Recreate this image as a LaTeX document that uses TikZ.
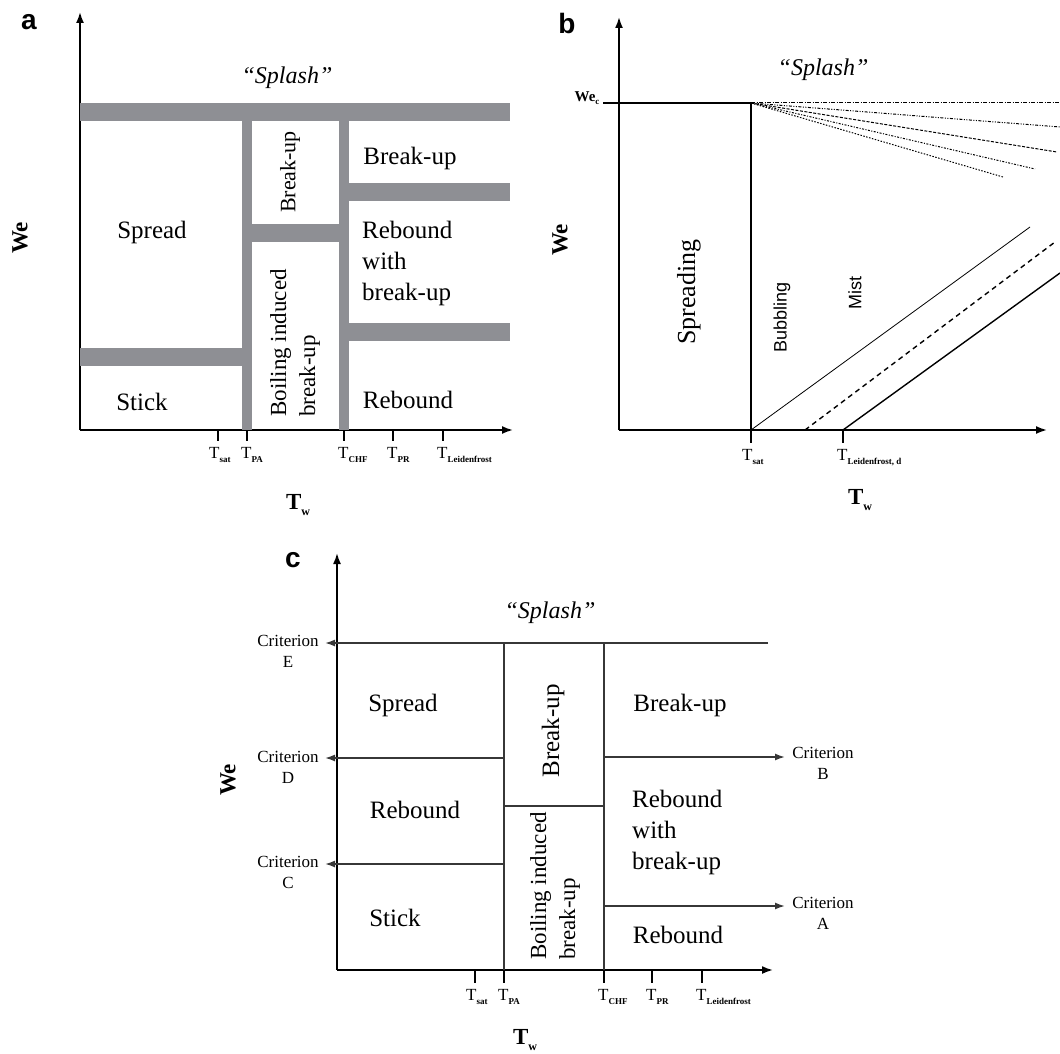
\documentclass[tikz,border=0pt]{standalone}
\usepackage{fontspec}
\usetikzlibrary{arrows.meta}
\setmainfont{Liberation Serif}
\newfontfamily\arialfont{Liberation Sans}
\definecolor{bandgray}{RGB}{142,143,148}
\definecolor{linegray}{RGB}{55,55,55}
\newcommand{\Tsub}[1]{T\raisebox{-0.55ex}{\fontsize{9}{9}\selectfont\bfseries #1}}
\newcommand{\Tw}{\textbf{T\raisebox{-0.5ex}{\fontsize{12}{12}\selectfont w}}}

\begin{document}
\begin{tikzpicture}[x=1pt,y=-1pt,
  axis/.style={line width=1.8pt,-{Latex[length=11pt,width=8pt]}},
  tick/.style={line width=1.2pt},
  band/.style={fill=bandgray,draw=none},
  region/.style={font=\fontsize{25}{31}\selectfont,inner sep=0},
  vregion/.style={font=\fontsize{23}{29}\selectfont,rotate=90,align=left,inner sep=0},
  ticklabel/.style={font=\fontsize{17}{17}\selectfont,anchor=base west,inner sep=0},
  axlabel/.style={font=\fontsize{23}{23}\selectfont\bfseries,inner sep=0},
  panel/.style={font=\arialfont\fontsize{28}{28}\selectfont\bfseries,inner sep=0},
  splash/.style={font=\fontsize{24}{24}\selectfont\itshape,inner sep=0},
  crit/.style={font=\fontsize{17}{21}\selectfont,align=center,inner sep=0},
  critline/.style={line width=1.6pt,draw=linegray,-{Latex[length=10pt,width=7pt]}},
  wall/.style={line width=1.6pt,draw=linegray}]
\useasboundingbox (0,0) rectangle (1060,1054);

%panel a
\node[panel] (alabel) at (29,22) {a};
\draw[axis] (80,430) -- (80,12);
\draw[axis] (80,430) -- (513,430);
\fill[band] (80,103) rectangle (510,121);
\fill[band] (242,121) rectangle (252,430);
\fill[band] (339,121) rectangle (349,430);
\fill[band] (80,348) rectangle (242,366);
\fill[band] (252,224) rectangle (339,242);
\fill[band] (349,183) rectangle (510,201);
\fill[band] (349,323) rectangle (510,341);
\foreach \x in {218,247,344,393,443} \draw[tick] (\x,430) -- (\x,441);
\node[ticklabel] (asat) at (209,458) {\Tsub{sat}};
\node[ticklabel] (apa) at (241,458) {\Tsub{PA}};
\node[ticklabel] (achf) at (338,458) {\Tsub{CHF}};
\node[ticklabel] (apr) at (387,458) {\Tsub{PR}};
\node[ticklabel] (aleid) at (437,458) {\Tsub{Leidenfrost}};
\node[axlabel,rotate=90] (awe) at (20,238) {We};
\node[axlabel] (atw) at (298,505) {\Tw};
\node[splash] (asplash) at (287,78) {``Splash''};
\node[region] (aspread) at (152,232) {Spread};
\node[region] (astick) at (142,402) {Stick};
\node[vregion,font=\fontsize{22}{22}\selectfont] (abreakv) at (290,172) {Break-up};
\node[vregion] (aboil) at (295,343) {Boiling induced\\break-up};
\node[region] (abreak) at (410,158) {Break-up};
\node[region,align=left,anchor=west] (arwb) at (362,263) {Rebound\\with\\break-up};
\node[region] (arebound) at (408,400) {Rebound};

%panel b
\node[panel] (blabel) at (567,23) {b};
\draw[axis] (619,430) -- (619,17);
\draw[axis] (619,430) -- (1047,430);
\draw[line width=1.4pt] (603,103) -- (751,103) -- (751,430);
\foreach \x in {751,843} \draw[tick] (\x,430) -- (\x,443);
\draw[line width=1pt,dash pattern=on 4pt off 1.5pt on 1pt off 1.5pt] (751,103) -- (1060,103);
\draw[line width=1pt,dash pattern=on 3pt off 1.5pt on 1pt off 1.5pt on 1pt off 1.5pt] (751,103) -- (1060,127);
\draw[line width=1pt,dash pattern=on 3pt off 1.5pt] (751,103) -- (1057,152);
\draw[line width=1pt,dash pattern=on 2pt off 1.5pt on 1pt off 1.5pt] (751,103) -- (1035,169);
\draw[line width=1pt,dash pattern=on 1.5pt off 1.5pt] (751,103) -- (1003,177);
\draw[line width=0.8pt] (751,430) -- (1030,227);
\draw[line width=1.4pt,dash pattern=on 5pt off 4pt] (805,430) -- (1055,242);
\draw[line width=1.4pt] (843,430) -- (1060,273);
\node[font=\fontsize{15}{15}\selectfont\bfseries,inner sep=0] (bwec) at (587,98) {We\raisebox{-0.5ex}{\fontsize{9}{9}\selectfont c}};
\node[ticklabel] (bsat) at (742,460) {\Tsub{sat}};
\node[ticklabel] (bleid) at (837,460) {\Tsub{Leidenfrost, d}};
\node[axlabel,rotate=90] (bwe) at (560,240) {We};
\node[axlabel] (btw) at (860,500) {\Tw};
\node[splash] (bsplash) at (823,70) {``Splash''};
\node[vregion,font=\fontsize{26}{26}\selectfont] (bspread) at (689,292) {Spreading};
\node[vregion,font=\arialfont\fontsize{18}{18}\selectfont] (bbubble) at (782,317) {Bubbling};
\node[vregion,font=\arialfont\fontsize{18}{18}\selectfont] (bmist) at (855,293) {Mist};

%panel c
\node[panel] (clabel) at (293,560) {c};
\draw[axis] (337,970) -- (337,553);
\draw[axis] (337,970) -- (773,970);
\draw[wall] (504,643) -- (504,970);
\draw[wall] (604,643) -- (604,970);
\draw[wall] (504,806) -- (604,806);
\draw[critline] (768,643) -- (325,643);
\draw[critline] (504,758) -- (325,758);
\draw[critline] (504,864) -- (325,864);
\draw[critline] (604,757) -- (785,757);
\draw[critline] (604,906) -- (785,906);
\foreach \x in {475,504,604,652,702} \draw[tick] (\x,970) -- (\x,983);
\node[ticklabel] (csat) at (466,1000) {\Tsub{sat}};
\node[ticklabel] (cpa) at (498,1000) {\Tsub{PA}};
\node[ticklabel] (cchf) at (598,1000) {\Tsub{CHF}};
\node[ticklabel] (cpr) at (646,1000) {\Tsub{PR}};
\node[ticklabel] (cleid) at (696,1000) {\Tsub{Leidenfrost}};
\node[crit] (ce) at (288,651) {Criterion\\E};
\node[crit] (cd) at (288,767) {Criterion\\D};
\node[crit] (cc) at (288,872) {Criterion\\C};
\node[crit] (cb) at (823,763) {Criterion\\B};
\node[crit] (ca) at (823,913) {Criterion\\A};
\node[axlabel,rotate=90] (cwe) at (228,780) {We};
\node[axlabel] (ctw) at (525,1040) {\Tw};
\node[splash] (csplash) at (550,613) {``Splash''};
\node[region] (cspread) at (403,705) {Spread};
\node[region] (crebound) at (415,810) {Rebound};
\node[region] (cstick) at (395,918) {Stick};
\node[vregion,font=\fontsize{25}{25}\selectfont] (cbreakv) at (553,731) {Break-up};
\node[vregion] (cboil) at (555,886) {Boiling induced\\break-up};
\node[region] (cbreak) at (680,705) {Break-up};
\node[region,align=left,anchor=west] (crwb) at (632,832) {Rebound\\with\\break-up};
\node[region] (crebound2) at (678,935) {Rebound};
\end{tikzpicture}
\end{document}
